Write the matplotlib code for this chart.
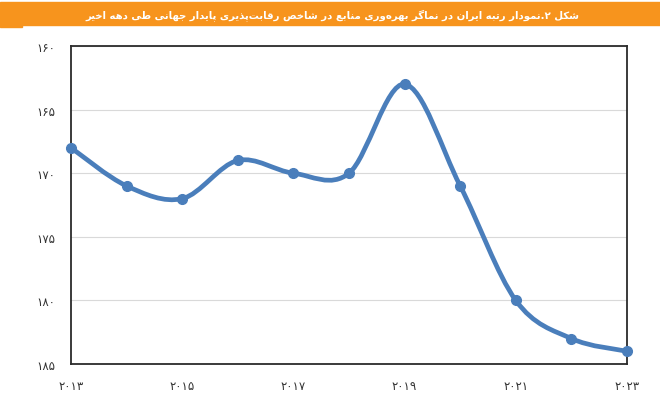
import numpy as np
import matplotlib
matplotlib.use('Agg')
import matplotlib.pyplot as plt
from matplotlib.path import Path
from matplotlib.patches import PathPatch, Rectangle

years = [2013, 2014, 2015, 2016, 2017, 2018, 2019, 2020, 2021, 2022, 2023]
rank = [168, 171, 172, 169, 170, 170, 163, 171, 180, 183, 184]

x_ticks = [2013, 2015, 2017, 2019, 2021, 2023]
y_ticks = [160, 165, 170, 175, 180, 185]

title = 'شکل ۲.نمودار رتبه ایران در نماگر بهره\u200cوری منابع در شاخص رقابت\u200cپذیری پایدار جهانی طی دهه اخیر'

# isolated, final, initial, medial
FORMS = {
	'ا': (0xFE8D, 0xFE8E, None, None),
	'آ': (0xFE81, 0xFE82, None, None),
	'ب': (0xFE8F, 0xFE90, 0xFE91, 0xFE92),
	'پ': (0xFB56, 0xFB57, 0xFB58, 0xFB59),
	'ت': (0xFE95, 0xFE96, 0xFE97, 0xFE98),
	'ج': (0xFE9D, 0xFE9E, 0xFE9F, 0xFEA0),
	'خ': (0xFEA5, 0xFEA6, 0xFEA7, 0xFEA8),
	'د': (0xFEA9, 0xFEAA, None, None),
	'ذ': (0xFEAB, 0xFEAC, None, None),
	'ر': (0xFEAD, 0xFEAE, None, None),
	'ز': (0xFEAF, 0xFEB0, None, None),
	'ش': (0xFEB5, 0xFEB6, 0xFEB7, 0xFEB8),
	'ص': (0xFEB9, 0xFEBA, 0xFEBB, 0xFEBC),
	'ط': (0xFEC1, 0xFEC2, 0xFEC3, 0xFEC4),
	'ع': (0xFEC9, 0xFECA, 0xFECB, 0xFECC),
	'ق': (0xFED5, 0xFED6, 0xFED7, 0xFED8),
	'ک': (0xFB8E, 0xFB8F, 0xFB90, 0xFB91),
	'گ': (0xFB92, 0xFB93, 0xFB94, 0xFB95),
	'ل': (0xFEDD, 0xFEDE, 0xFEDF, 0xFEE0),
	'م': (0xFEE1, 0xFEE2, 0xFEE3, 0xFEE4),
	'ن': (0xFEE5, 0xFEE6, 0xFEE7, 0xFEE8),
	'و': (0xFEED, 0xFEEE, None, None),
	'ه': (0xFEE9, 0xFEEA, 0xFEEB, 0xFEEC),
	'ی': (0xFBFC, 0xFBFD, 0xFBFE, 0xFBFF),
}

def shape(text):
	# crude persian shaping + reverse for display
	out = []
	n = len(text)
	for i, c in enumerate(text):
		if c not in FORMS:
			if c != '\u200c':
				out.append(c)
			continue
		f = FORMS[c]
		prev = text[i-1] if i > 0 else ''
		nxt = text[i+1] if i < n-1 else ''
		join_prev = prev in FORMS and FORMS[prev][2] is not None
		join_next = nxt in FORMS and f[2] is not None
		if join_prev and join_next:
			out.append(chr(f[3]))
		elif join_prev:
			out.append(chr(f[1]))
		elif join_next:
			out.append(chr(f[2]))
		else:
			out.append(chr(f[0]))
	return ''.join(out[::-1])

def fa_digits(v):
	return str(v).translate(str.maketrans('0123456789', '۰۱۲۳۴۵۶۷۸۹'))

def smooth_path(xs, ys):
	# excel style smoothed line (catmull-rom as bezier)
	xs = np.asarray(xs, float)
	ys = np.asarray(ys, float)
	verts = [(xs[0], ys[0])]
	codes = [Path.MOVETO]
	n = len(xs)
	for i in range(n - 1):
		i0 = max(i - 1, 0)
		i3 = min(i + 2, n - 1)
		c1 = (xs[i] + (xs[i+1] - xs[i0]) / 6, ys[i] + (ys[i+1] - ys[i0]) / 6)
		c2 = (xs[i+1] - (xs[i3] - xs[i]) / 6, ys[i+1] - (ys[i3] - ys[i]) / 6)
		verts += [c1, c2, (xs[i+1], ys[i+1])]
		codes += [Path.CURVE4] * 3
	return Path(verts, codes)

plt.rcParams['font.family'] = ['DejaVu Sans']

fig = plt.figure(figsize=(6.6, 4.06), dpi=100, facecolor='white')
ax = fig.add_axes([71/660, 1 - 365/406, (627-71)/660, (365-47)/406])

blue = '#4a7ebb'
ax.add_patch(PathPatch(smooth_path(years, rank), facecolor='none', edgecolor=blue, lw=3.4, capstyle='round', zorder=3))
ax.plot(years, rank, ls='none', marker='o', ms=7, color=blue, zorder=4, clip_on=False)

ax.set_xlim(2013, 2023)
ax.set_ylim(185, 160)
ax.set_xticks(x_ticks)
ax.set_xticklabels([fa_digits(v) for v in x_ticks])
ax.set_yticks(y_ticks)
ax.set_yticklabels([fa_digits(v) for v in y_ticks])
ax.tick_params(length=0, labelsize=8.5, colors='#333333')
ax.tick_params(axis='x', pad=11)
ax.tick_params(axis='y', pad=11)
ax.grid(axis='y', color='#d9d9d9', lw=0.8)
for s in ax.spines.values():
	s.set_color('#2b2b2b')
	s.set_linewidth(1.3)

# orange title bar
fig.patches.append(Rectangle((0, 1 - 26/406), 1, 23/406, transform=fig.transFigure, color='#f7941d', zorder=0))
fig.patches.append(Rectangle((0, 1 - 28/406), 22/660, 3/406, transform=fig.transFigure, color='#f7941d', zorder=0))
fig.text(332/660, 1 - 15/406, shape(title), ha='center', va='center', color='white', fontsize=7.3, fontweight='bold')

plt.savefig('out.png', dpi=100)
